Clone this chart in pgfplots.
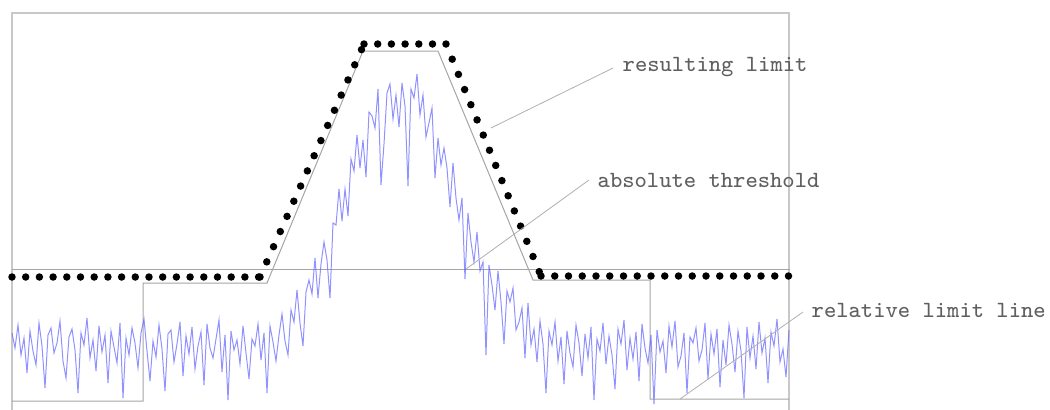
\documentclass[border=0pt]{standalone}
\usepackage{pgfplots}
\pgfplotsset{compat=1.18}
\definecolor{frame}{RGB}{200,200,200}
\definecolor{lim}{RGB}{165,165,165}
\definecolor{lead}{RGB}{175,175,175}
\definecolor{txt}{RGB}{95,95,95}
\definecolor{trace}{RGB}{100,100,255}
\begin{document}
\begin{tikzpicture}
\begin{axis}[name=ax, width=10.5cm, height=4.1cm, scale only axis, hide axis,
  xmin=0, xmax=1050, ymin=0, ymax=410, y dir=reverse, clip=false]
% frame (left, top, right)
\addplot[frame, line width=0.15mm] coordinates {(12,410) (12,13) (789,13) (789,410)};
% absolute threshold
\addplot[lim, line width=0.1mm] coordinates {(12,269) (790,269)};
% relative limit line
\addplot[lim, line width=0.1mm] coordinates {(12,401) (143,401) (143,283) (267,283) (363,51) (438,51) (533,280) (650,280) (650,399) (789,399)};
% measured trace
\addplot[trace, line width=0.1mm, opacity=0.7] coordinates {
(12,333) (15,348) (18,325) (21,355) (24,338) (27,373) (30,331) (33,351) (36,365) (39,323)
(42,346) (45,388) (48,335) (51,328) (54,353) (57,343) (60,321) (63,361) (66,378) (69,337)
(72,329) (75,350) (78,393) (81,333) (84,345) (87,318) (90,358) (93,340) (96,371) (99,326)
(102,352) (105,335) (108,383) (111,331) (114,347) (117,363) (120,323) (123,398) (126,338) (129,355)
(132,328) (135,343) (138,368) (141,333) (144,319) (147,351) (150,381) (153,341) (156,357) (159,325)
(162,349) (165,391) (168,334) (171,330) (174,362) (177,344) (180,322) (183,376) (186,336) (189,354)
(192,327) (195,369) (198,346) (201,332) (204,385) (207,324) (210,348) (213,358) (216,339) (219,320)
(222,372) (225,335) (228,400) (231,331) (234,350) (237,340) (240,364) (243,326) (246,353) (249,379)
(252,339) (255,346) (258,324) (261,360) (264,333) (267,393) (270,326) (273,342) (276,361) (279,335)
(282,314) (285,341) (288,355) (291,310) (294,322) (297,290) (300,323) (303,346) (306,292) (309,280)
(312,294) (315,258) (318,298) (321,264) (324,242) (327,260) (330,298) (333,223) (336,225) (339,189)
(342,221) (345,189) (348,216) (351,159) (354,171) (357,135) (360,168) (363,140) (366,177) (369,112)
(372,116) (375,128) (378,89) (381,185) (384,144) (387,93) (390,84) (393,119) (396,95) (399,127)
(402,83) (405,106) (408,186) (411,89) (414,98) (417,74) (420,115) (423,95) (426,137) (429,123)
(432,108) (435,178) (438,138) (441,165) (444,148) (447,168) (450,207) (453,163) (456,198) (459,220)
(462,198) (465,279) (468,213) (471,242) (474,262) (477,232) (480,271) (483,262) (486,355) (489,265)
(492,285) (495,310) (498,271) (501,302) (504,344) (507,291) (510,302) (513,288) (516,330) (519,322)
(522,308) (525,358) (528,303) (531,345) (534,329) (537,362) (540,321) (543,344) (546,393) (549,331)
(552,345) (555,322) (558,361) (561,337) (564,384) (567,331) (570,353) (573,367) (576,325) (579,343)
(582,376) (585,334) (588,358) (591,327) (594,400) (597,339) (600,351) (603,323) (606,364) (609,336)
(612,355) (615,389) (618,329) (621,344) (624,320) (627,370) (630,338) (633,359) (636,332) (639,381)
(642,324) (645,348) (648,363) (651,335) (654,404) (657,330) (660,352) (663,341) (666,373) (669,326)
(672,347) (675,321) (678,367) (681,356) (684,333) (687,393) (690,337) (693,343) (696,328) (699,361)
(702,350) (705,323) (708,379) (711,334) (714,354) (717,329) (720,387) (723,340) (726,365) (729,325)
(732,344) (735,372) (738,331) (741,351) (744,398) (747,327) (750,358) (753,336) (756,369) (759,322)
(762,353) (765,338) (768,383) (771,332) (774,346) (777,319) (780,362) (783,349) (786,377) (789,330)
};
% resulting limit (dotted), one piece per segment
\addplot[black, line width=0.75mm, line cap=round, dash pattern=on 0pt off 1.37mm] coordinates {(12,277) (260,277)};
\addplot[black, line width=0.75mm, line cap=round, dash pattern=on 0pt off 1.66mm] coordinates {(260,277) (364,44)};
\addplot[black, line width=0.75mm, line cap=round, dash pattern=on 0pt off 1.37mm] coordinates {(364,44) (446,44)};
\addplot[black, line width=0.75mm, line cap=round, dash pattern=on 0pt off 1.64mm] coordinates {(446,44) (541,276)};
\addplot[black, line width=0.75mm, line cap=round, dash pattern=on 0pt off 1.375mm] coordinates {(541,276) (789.5,276)};
% leader lines
\addplot[lead, line width=0.08mm] coordinates {(613,68) (491,128)};
\addplot[lead, line width=0.08mm] coordinates {(589,180) (466,269)};
\addplot[lead, line width=0.08mm] coordinates {(803,312) (680,399)};
% labels
\node[anchor=west, inner sep=0pt, text=txt, font=\ttfamily\fontsize{6.6}{8}\selectfont] at (axis cs:622,67) {resulting limit};
\node[anchor=west, inner sep=0pt, text=txt, font=\ttfamily\fontsize{6.6}{8}\selectfont] at (axis cs:597,180) {absolute threshold};
\node[anchor=west, inner sep=0pt, text=txt, font=\ttfamily\fontsize{6.6}{8}\selectfont] at (axis cs:811,310) {relative limit line};
\end{axis}
\pgfresetboundingbox
\path[use as bounding box] (ax.south west) rectangle (ax.north east);
\end{tikzpicture}
\end{document}
